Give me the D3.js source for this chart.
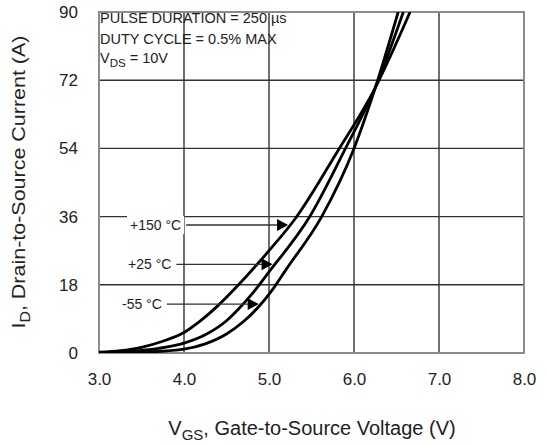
<!DOCTYPE html>
<html>
<head>
<meta charset="utf-8">
<script src="https://cdn.jsdelivr.net/npm/d3@7"></script>
<style>
  body { margin: 0; background: #fff; }
  svg text { font-family: "Liberation Sans", Arial, sans-serif; fill: #222; }
</style>
</head>
<body>
<svg id="chart" width="547" height="445"></svg>
<script>
// axis ticks
const xTicks = [3, 4, 5, 6, 7, 8];
const xTickLabels = ['3.0', '4.0', '5.0', '6.0', '7.0', '8.0'];
const yTicks = [0, 18, 36, 54, 72, 90];

// transfer curves, V_GS (V) vs I_D (A)
const vgs150 = [3.0, 3.25, 3.5, 3.75, 4.0, 4.2, 4.4, 4.6, 5.0, 5.31, 5.8, 6.25, 6.66];
const id150 = [0.2, 0.6, 1.5, 3.1, 5.4, 8.6, 12.5, 17, 27, 35.5, 53, 70, 90];

const vgs25 = [3.0, 3.3, 3.7, 4.0, 4.25, 4.5, 4.65, 4.8, 5.0, 5.48, 5.9, 6.25, 6.58];
const id25 = [0.05, 0.3, 1.2, 2.6, 4.8, 8.5, 11.8, 15.6, 21.4, 36, 54, 70, 90];

const vgsM55 = [3.0, 3.6, 4.0, 4.25, 4.5, 4.7, 4.87, 5.05, 5.2, 5.62, 6.0, 6.25, 6.52];
const idM55 = [0.0, 0.3, 1.0, 2.4, 5.0, 8.3, 12, 17, 22, 36, 54, 70, 90];

const seriesNames = ['+150 °C', '+25 °C', '-55 °C'];

const series = [
  { name: seriesNames[0], v: vgs150, i: id150 },
  { name: seriesNames[1], v: vgs25, i: id25 },
  { name: seriesNames[2], v: vgsM55, i: idM55 },
];

const svg = d3.select('#chart');

const x = d3.scaleLinear().domain([3, 8]).range([99, 524]);
const y = d3.scaleLinear().domain([0, 90]).range([353, 12]);

svg.append('defs').append('clipPath').attr('id', 'plot')
  .append('rect')
  .attr('x', x(3)).attr('y', y(90))
  .attr('width', x(8) - x(3)).attr('height', y(0) - y(90));

// grid
const grid = svg.append('g');
grid.selectAll('.vx')
  .data(xTicks.slice(1, -1))
  .join('line')
  .attr('x1', d => x(d)).attr('x2', d => x(d))
  .attr('y1', y(90)).attr('y2', y(0))
  .attr('stroke', '#333').attr('stroke-width', 1.4);
grid.selectAll('.hy')
  .data(yTicks.slice(1, -1))
  .join('line')
  .attr('x1', x(3)).attr('x2', x(8))
  .attr('y1', d => y(d)).attr('y2', d => y(d))
  .attr('stroke', '#333').attr('stroke-width', 1.4);

svg.append('rect')
  .attr('x', x(3)).attr('y', y(90))
  .attr('width', x(8) - x(3)).attr('height', y(0) - y(90))
  .attr('fill', 'none').attr('stroke', '#8c8c8c').attr('stroke-width', 2);

// axes (labels only, no tick marks)
const xAxis = d3.axisBottom(x)
  .tickValues(xTicks)
  .tickFormat((d, k) => xTickLabels[k])
  .tickSize(0).tickPadding(20);
const gx = svg.append('g').attr('transform', `translate(0,${y(0)})`).call(xAxis);
gx.select('.domain').remove();
gx.selectAll('text').attr('font-size', 17).attr('font-family', null).attr('fill', '#222');

const yAxis = d3.axisLeft(y)
  .tickValues(yTicks)
  .tickSize(0).tickPadding(21);
const gy = svg.append('g').attr('transform', `translate(${x(3)},0)`).call(yAxis);
gy.select('.domain').remove();
gy.selectAll('text').attr('font-size', 17).attr('font-family', null).attr('fill', '#222');

// curves
const line = d3.line()
  .x(d => x(d[0]))
  .y(d => y(d[1]))
  .curve(d3.curveMonotoneX);

svg.append('g').attr('clip-path', 'url(#plot)')
  .selectAll('path')
  .data(series)
  .join('path')
  .attr('d', s => line(d3.zip(s.v, s.i)))
  .attr('fill', 'none')
  .attr('stroke', '#000')
  .attr('stroke-width', 2.8)
  .attr('stroke-linejoin', 'round');

// temperature callouts
function vAt(s, level) {
  for (let k = 1; k < s.i.length; k++) {
    if (s.i[k] >= level) {
      const t = (level - s.i[k - 1]) / (s.i[k] - s.i[k - 1]);
      return s.v[k - 1] + t * (s.v[k] - s.v[k - 1]);
    }
  }
  return s.v[s.v.length - 1];
}

const callouts = [
  { s: series[0], level: 33.8, tx: 130 },
  { s: series[1], level: 23.4, tx: 128 },
  { s: series[2], level: 12.9, tx: 122 },
];

const cg = svg.append('g');
callouts.forEach(c => {
  const ly = y(c.level);
  const tipX = x(vAt(c.s, c.level)) - 2;
  const t = cg.append('text')
    .attr('x', c.tx).attr('y', ly + 5)
    .attr('font-size', 14)
    .text(c.s.name);
  const bb = t.node().getBBox();
  cg.insert('rect', 'text')
    .attr('x', bb.x - 3).attr('y', bb.y - 1)
    .attr('width', bb.width + 6).attr('height', bb.height + 2)
    .attr('fill', '#fff');
  cg.append('line')
    .attr('x1', bb.x + bb.width + 5).attr('x2', tipX - 10)
    .attr('y1', ly).attr('y2', ly)
    .attr('stroke', '#333').attr('stroke-width', 1.4);
  cg.append('path')
    .attr('d', `M${tipX},${ly}L${tipX - 11},${ly - 6}L${tipX - 11},${ly + 6}Z`)
    .attr('fill', '#000');
});

// test conditions
const note = svg.append('g').attr('font-size', 14.5);
note.append('text').attr('x', 100).attr('y', 23).text('PULSE DURATION = 250 µs');
note.append('text').attr('x', 100).attr('y', 44).text('DUTY CYCLE = 0.5% MAX');
const vds = note.append('text').attr('x', 100).attr('y', 63);
vds.append('tspan').text('V');
vds.append('tspan').attr('dy', 4).attr('font-size', 11.5).text('DS');
vds.append('tspan').attr('dy', -4).text(' = 10V');

// axis titles
const xt = svg.append('text')
  .attr('x', 312).attr('y', 435)
  .attr('text-anchor', 'middle')
  .attr('font-size', 20);
xt.append('tspan').text('V');
xt.append('tspan').attr('dy', 5).attr('font-size', 15).text('GS');
xt.append('tspan').attr('dy', -5).text(', Gate-to-Source Voltage (V)');

const yt = svg.append('text')
  .attr('transform', 'translate(25,182) rotate(-90) scale(1.13,1)')
  .attr('text-anchor', 'middle')
  .attr('font-size', 19);
yt.append('tspan').text('I');
yt.append('tspan').attr('dy', 5).attr('font-size', 14).text('D');
yt.append('tspan').attr('dy', -5).text(', Drain-to-Source Current (A)');
</script>
</body>
</html>
